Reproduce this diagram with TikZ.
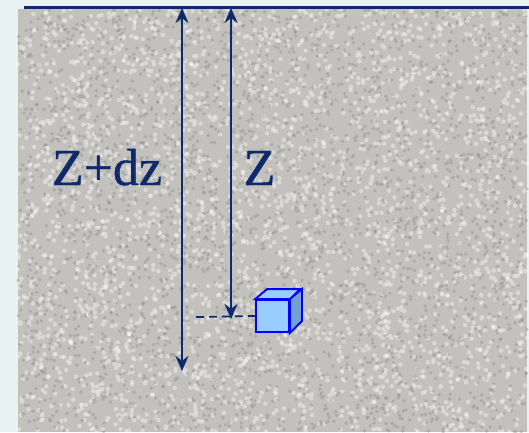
\documentclass[tikz,border=0pt]{standalone}
\usepackage{fontspec}
\setmainfont{Liberation Serif}
\usetikzlibrary{arrows.meta, positioning}

\definecolor{navy}{RGB}{14,42,108}
\definecolor{paper}{RGB}{232,242,243}
\definecolor{rock}{RGB}{194,193,189}
\definecolor{grit}{RGB}{140,139,136}
\definecolor{cubeface}{RGB}{153,204,255}
\definecolor{cubeside}{RGB}{112,160,214}

\tikzset{
  depth/.style={navy, line width=2.5pt, <->},
  label/.style={navy, inner sep=0pt, anchor=base, font=\fontsize{52}{60}\selectfont\addfontfeature{FakeBold=0.8}},
  cubebox/.style={draw=blue, fill=cubeface, line width=1.8pt, minimum width=33pt, minimum height=32pt, inner sep=0pt}
}

\begin{document}
\begin{tikzpicture}[x=1pt, y=-1pt, >={Stealth[length=15pt, width=13pt]}]

    \useasboundingbox[fill=paper] (0,0) rectangle (529,432);
    \fill[rock] (18,9) rectangle (527,432);
    % grain of the ground
    \pgfmathsetseed{7}
    \foreach \part in {1,2,3} {
        \fill[white, opacity=0.4] foreach \k in {1,...,1000} {(18+509*rnd, 9+423*rnd) circle (2.2pt)};
        \fill[grit, opacity=0.4] foreach \k in {1,...,1000} {(18+509*rnd, 9+423*rnd) circle (1.9pt)};
    }

    \coordinate (surfL) at (24,7.5);
    \coordinate (surfR) at (529,7.5);
    \draw[navy, line width=2.5pt] (surfL) -- (surfR);

    \coordinate (topA) at (182,8);
    \coordinate (botA) at (182,371);
    \coordinate (topB) at (231,8);
    \coordinate (botB) at (231,319);
    \draw[depth] (topA) -- (botA);
    \draw[depth] (topB) -- (botB);

    \node[label] (zdz) at (107,185) {Z+dz};
    \node[label] (z) at (259.5,185) {Z};

    \node[cubebox] (cube) at (272.5,316) {};
    \draw[blue, line width=1.8pt, fill=cubeface] (cube.north west) -- ++(12,-10) -- ++(33,0) -- (cube.north east) -- cycle;
    \draw[blue, line width=1.8pt, fill=cubeside] (cube.north east) -- ++(12,-10) -- ++(0,32) -- (cube.south east) -- cycle;

    \coordinate (lev) at (196,317);
    \draw[navy, line width=1.8pt, dash pattern=on 8pt off 5pt] (lev) -- (cube.west);

\end{tikzpicture}
\end{document}
